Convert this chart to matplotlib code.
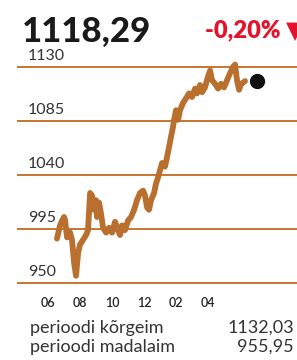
import matplotlib
matplotlib.use('agg')
import matplotlib.pyplot as plt

# index level, months since start of June
months = [0.56, 0.63, 0.75, 0.88, 1.0, 1.06, 1.19, 1.31, 1.38, 1.5, 1.63, 1.75,
          1.88, 2.0, 2.19, 2.38, 2.5, 2.63, 2.75, 2.88, 3.0, 3.06, 3.19, 3.31,
          3.44, 3.63, 3.81, 4.0, 4.19, 4.38, 4.5, 4.63, 4.81, 5.0, 5.19, 5.38,
          5.56, 5.75, 5.94, 6.06, 6.19, 6.31, 6.44, 6.63, 6.75, 6.88, 7.0, 7.13,
          7.31, 7.44, 7.56, 7.69, 7.81, 7.88, 8.0, 8.13, 8.25, 8.44, 8.63, 8.81,
          9.0, 9.19, 9.31, 9.5, 9.63, 9.81, 10.0, 10.13, 10.25, 10.44, 10.63,
          10.81, 11.0, 11.19, 11.38, 11.56, 11.69, 11.81, 11.94, 12.06, 12.19, 12.31]
values = [987, 991, 998, 1002, 1005, 1003, 988, 993, 992, 986, 967, 956,
          975, 982, 986, 990, 994, 1025, 1023, 1011, 1019, 1005, 1017, 1008,
          996, 992, 996, 992, 1001, 994, 990, 998, 994, 1002, 1005, 1011,
          1019, 1025, 1027, 1023, 1013, 1011, 1019, 1025, 1033, 1038, 1044, 1050,
          1047, 1055, 1063, 1072, 1080, 1086, 1094, 1086, 1094, 1100, 1104, 1108,
          1105, 1112, 1108, 1115, 1109, 1113, 1122, 1127, 1119, 1116, 1112,
          1116, 1113, 1119, 1125, 1130, 1132, 1119, 1111, 1116, 1117, 1118.29]

y_ticks = [950, 995, 1040, 1085, 1130]
x_ticks = [0, 2, 4, 6, 8, 10]
x_labels = ["06", "08", "10", "12", "02", "04"]

last_value = "1118,29"
change = "-0,20% \u25bc"
stats = [("perioodi kõrgeim", "1132,03"), ("perioodi madalaim", "955,95")]

LINE = "#b9702f"
GRID = "#c9762f"
FONT = ["Lato", "DejaVu Sans"]

fig = plt.figure(figsize=(2.97, 3.6), dpi=100)
ax = fig.add_axes([18 / 297, 77 / 360, 1 - 18 / 297, 216 / 360])
ax.set_xlim(-1.875, 15.56)
ax.set_ylim(950, 1130)

for v in y_ticks:
    ax.axhline(v, color=GRID, lw=1.4, zorder=1, clip_on=False)
    ax.text(0.036, v + 3, str(v), transform=ax.get_yaxis_transform(), family=FONT,
            fontsize=11.5, color="#333333", va="bottom", ha="left")

ax.plot(months, values, color=LINE, lw=4.2, solid_joinstyle="round",
        solid_capstyle="round", zorder=3, clip_on=False)
ax.plot(months[-1] + 0.75, values[-1], "o", color="#111111", ms=10, zorder=4, clip_on=False)

for s in ax.spines.values():
    s.set_visible(False)
ax.set_yticks([])
ax.set_xticks(x_ticks)
ax.set_xticklabels(x_labels, fontsize=9, color="#222222", fontweight="semibold", family=FONT)
ax.tick_params(axis="x", length=0, pad=10)

fig.text(22 / 297, 1 - 42 / 360, last_value, fontsize=25, fontweight="black", family=FONT,
         color="#1a1a1a", ha="left", va="baseline")
fig.text(205 / 297, 1 - 37 / 360, change, fontsize=17, fontweight="heavy", family=FONT,
         color="#e4132b", ha="left", va="baseline")

for i, (label, val) in enumerate(stats):
    y = 1 - (333 + 19 * i) / 360
    fig.text(30 / 297, y, label, fontsize=13, color="#333333", ha="left", va="baseline",
             family=FONT)
    fig.text(294 / 297, y, val, fontsize=13, color="#333333", ha="right", va="baseline",
             family=FONT)

fig.savefig("out.png", dpi=100)
